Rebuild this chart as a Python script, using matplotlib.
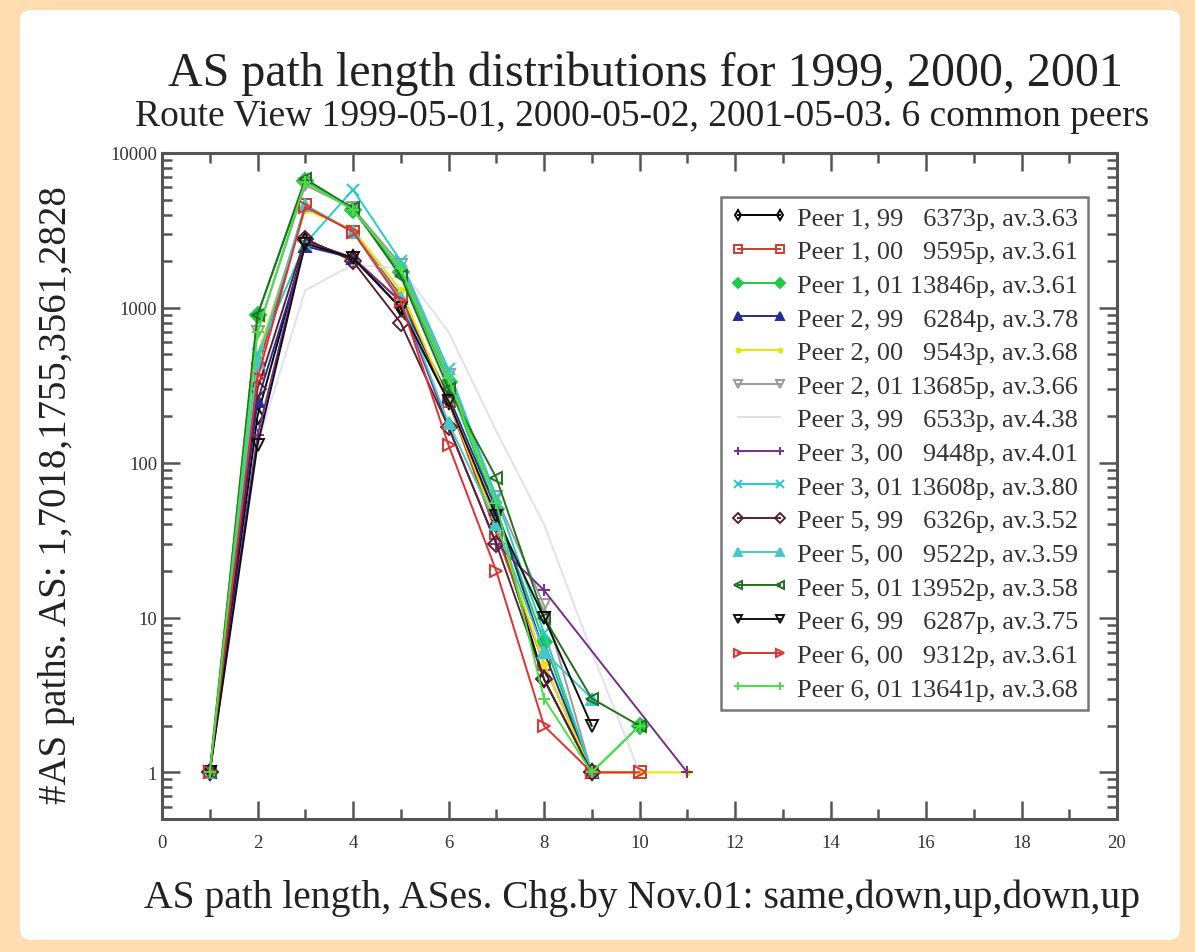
import matplotlib
matplotlib.use("Agg")
import matplotlib.pyplot as plt
from matplotlib.patches import FancyBboxPatch
from matplotlib.ticker import FixedLocator, FixedFormatter, NullFormatter, LogLocator

plt.rcParams['font.family'] = ['Liberation Serif', 'DejaVu Serif']

lengths = [1, 2, 3, 4, 5, 6, 7, 8, 9, 10, 11]

labels = [
    "Peer 1, 99   6373p, av.3.63",
    "Peer 1, 00   9595p, av.3.61",
    "Peer 1, 01 13846p, av.3.61",
    "Peer 2, 99   6284p, av.3.78",
    "Peer 2, 00   9543p, av.3.68",
    "Peer 2, 01 13685p, av.3.66",
    "Peer 3, 99   6533p, av.4.38",
    "Peer 3, 00   9448p, av.4.01",
    "Peer 3, 01 13608p, av.3.80",
    "Peer 5, 99   6326p, av.3.52",
    "Peer 5, 00   9522p, av.3.59",
    "Peer 5, 01 13952p, av.3.58",
    "Peer 6, 99   6287p, av.3.75",
    "Peer 6, 00   9312p, av.3.61",
    "Peer 6, 01 13641p, av.3.68",
]

# counts per path length (None = no paths of that length)
p1_99 = [1, 200, 2700, 2100, 1000, 250, 40, 4, 1, None, None]
p1_00 = [1, 400, 4600, 3100, 1200, 250, 35, 5, 1, 1, None]
p1_01 = [1, 900, 6600, 4300, 1700, 330, 50, 7, 1, 2, None]
p2_99 = [1, 250, 2500, 2100, 1100, 270, 50, 6, 1, None, None]
p2_00 = [1, 500, 4300, 3200, 1300, 250, 40, 5, 1, 1, 1]
p2_01 = [1, 700, 6200, 4400, 1900, 370, 60, 12, 1, None, None]
p3_99 = [1, 130, 1300, 1900, 1800, 700, 160, 40, 6, 1, None]
p3_00 = [1, 150, 2700, 2100, 1100, 170, 30, 15, None, None, 1]
p3_01 = [1, 500, 2600, 5800, 2000, 400, 60, 8, 1, None, None]
p5_99 = [1, 300, 2800, 2000, 800, 170, 30, 4, 1, None, None]
p5_00 = [1, 450, 4600, 3100, 1150, 180, 40, 6, 3, None, None]
p5_01 = [1, 900, 6800, 4400, 1600, 300, 80, 10, 3, 2, None]
p6_99 = [1, 130, 2600, 2100, 1000, 250, 45, 10, 2, None, None]
p6_00 = [1, 350, 4500, 3100, 1100, 130, 20, 2, 1, 1, None]
p6_01 = [1, 700, 6500, 4300, 1800, 350, 55, 3, 1, 2, None]

series = [p1_99, p1_00, p1_01, p2_99, p2_00, p2_01, p3_99, p3_00, p3_01,
          p5_99, p5_00, p5_01, p6_99, p6_00, p6_01]

colors = ['#000000', '#D03A30', '#22C84A', '#2A2A90', '#E6E600', '#9A9A9A',
          '#E2E0EE', '#7A2A90', '#22CCCC', '#5A2030', '#44C8C8', '#207020',
          '#101010', '#E03030', '#44E044']
markers = ['d', 's', 'D', '^', '.', 'v', '', '+', 'x', 'D', '^', '<', 'v', '>', '+']
filled = [False, False, True, True, True, False, True, True, True, False, True,
          False, False, False, True]

fig = plt.figure(figsize=(11.95, 9.53), dpi=100)
fig.patch.set_facecolor('#FFDDB0')
panel = FancyBboxPatch((20 / 1195, 12 / 953), 1160 / 1195, 930 / 953,
                       boxstyle="round,pad=0,rounding_size=0.01",
                       transform=fig.transFigure, facecolor='white',
                       edgecolor='none', zorder=-10)
fig.patches.append(panel)

ax = fig.add_axes([162 / 1195, 1 - 820 / 953, (1117 - 162) / 1195, (820 - 154) / 953])
ax.set_zorder(5)
ax.set_facecolor('white')

for vals, lab, c, m, f in zip(series, labels, colors, markers, filled):
    xs = [x for x, v in zip(lengths, vals) if v is not None]
    ys = [v for v in vals if v is not None]
    ax.plot(xs, ys, color=c, marker=m if m else None, markersize=8,
            markerfacecolor=c if f else 'none', markeredgecolor=c,
            markeredgewidth=1.4, linewidth=1.4, label=lab)

ax.set_yscale('log')
ax.set_xlim(0, 20)
ax.set_ylim(0.5, 10000)

ax.xaxis.set_major_locator(FixedLocator(range(0, 21, 2)))
ax.xaxis.set_minor_locator(FixedLocator(range(1, 21, 2)))
ax.yaxis.set_major_locator(FixedLocator([1, 10, 100, 1000, 10000]))
ax.yaxis.set_major_formatter(FixedFormatter(['1', '10', '100', '1000', '10000']))
ax.yaxis.set_minor_locator(LogLocator(base=10, subs=range(2, 10), numticks=20))
ax.yaxis.set_minor_formatter(NullFormatter())

ax.tick_params(which='both', direction='in', top=True, right=True,
               color='#555555', labelsize=13.5, labelcolor='#333333')
ax.tick_params(which='major', length=13, width=1.8)
ax.tick_params(which='minor', length=7, width=1.8)
ax.tick_params(axis='x', which='major', pad=11)
for s in ax.spines.values():
    s.set_color('#555555')
    s.set_linewidth(2.2)

leg = ax.legend(loc='upper right', bbox_to_anchor=(0.9696, 0.934), numpoints=2,
                handlelength=2.2, fontsize=19, frameon=True, fancybox=False,
                borderpad=0.35, labelspacing=0.385, handletextpad=0.35,
                borderaxespad=0.0, markerscale=0.7)
leg.get_frame().set_edgecolor('#555555')
leg.get_frame().set_linewidth(1.8)
for t in leg.get_texts():
    t.set_color('#333333')

fig.text(645 / 1195, 1 - 74 / 953, "AS path length distributions for 1999, 2000, 2001",
         ha='center', va='center', fontsize=34.5, color='#222222')
fig.text(642 / 1195, 1 - 117 / 953,
         "Route View 1999-05-01, 2000-05-02, 2001-05-03. 6 common peers",
         ha='center', va='center', fontsize=27, color='#222222')
fig.text(642 / 1195, 1 - 898 / 953,
         "AS path length, ASes. Chg.by Nov.01: same,down,up,down,up",
         ha='center', va='center', fontsize=28.5, color='#222222')
fig.text(57 / 1195, 1 - 495 / 953, "#AS paths. AS: 1,7018,1755,3561,2828",
         ha='center', va='center', rotation=90, fontsize=28, color='#222222')

fig.savefig('out.png', dpi=100, facecolor=fig.get_facecolor())
